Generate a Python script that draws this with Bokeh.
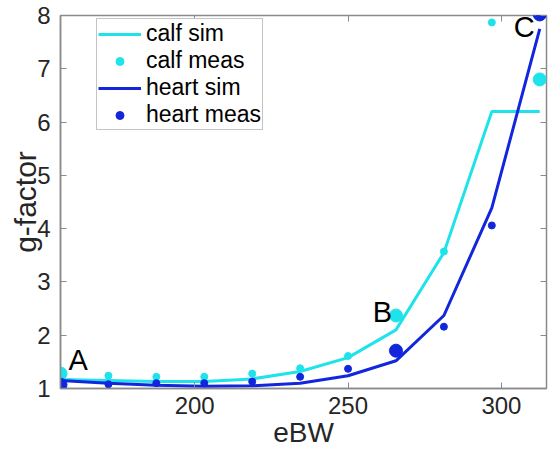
from bokeh.plotting import figure
from bokeh.models import ColumnDataSource, Range1d, LinearAxis, FixedTicker, Legend, LegendItem, Label
from bokeh.embed import file_html
from bokeh.resources import INLINE

# data
ebw = [156.25, 171.875, 187.5, 203.125, 218.75, 234.375, 250.0, 265.625, 281.25, 296.875, 312.5]
calf_sim = [1.17, 1.15, 1.13, 1.13, 1.18, 1.32, 1.58, 2.10, 3.55, 6.20, 6.20]
calf_meas = [1.28, 1.24, 1.22, 1.22, 1.28, 1.38, 1.61, 2.37, 3.57, 7.87, 6.80]
heart_sim = [1.15, 1.10, 1.06, 1.04, 1.05, 1.10, 1.24, 1.52, 2.37, 4.39, 7.75]
heart_meas = [1.07, 1.08, 1.10, 1.10, 1.13, 1.22, 1.37, 1.71, 2.16, 4.06, 8.02]
marked = [0, 7, 10]          # points A, B, C (drawn larger)
marked_names = ["A", "B", "C"]
x_ticks = [200, 250, 300]
y_ticks = [1, 2, 3, 4, 5, 6, 7, 8]

CYAN = "#1fe3ea"
BLUE = "#1226dc"
AX = "#8a8a8a"
TXT = "#262626"
FONT = "Liberation Sans"

src = ColumnDataSource(dict(x=ebw, cs=calf_sim, cm=calf_meas, hs=heart_sim, hm=heart_meas))
big = ColumnDataSource(dict(x=[ebw[i] for i in marked],
                            cm=[calf_meas[i] for i in marked],
                            hm=[heart_meas[i] for i in marked]))

p = figure(width=548, height=450, output_backend="svg", toolbar_location=None,
           x_range=Range1d(156.25, 314.7), y_range=Range1d(1, 8),
           min_border_left=60, min_border_right=2, min_border_top=15, min_border_bottom=0)
p.xgrid.visible = False
p.ygrid.visible = False
p.outline_line_color = AX
p.outline_line_width = 1.5
p.background_fill_color = "white"
p.border_fill_color = "white"

r_cs = p.line("x", "cs", source=src, line_color=CYAN, line_width=3)
r_cm = p.scatter("x", "cm", source=src, size=7, color=CYAN)
r_hs = p.line("x", "hs", source=src, line_color=BLUE, line_width=3)
r_hm = p.scatter("x", "hm", source=src, size=7, color=BLUE)
p.scatter("x", "cm", source=big, size=13, color=CYAN)
p.scatter("x", "hm", source=big, size=13, color=BLUE)

for ax in (p.xaxis[0], p.yaxis[0]):
    ax.axis_line_color = AX
    ax.axis_line_width = 1.5
    ax.major_tick_line_color = AX
    ax.major_tick_in = 6
    ax.major_tick_out = 0
    ax.minor_tick_line_color = None
    ax.major_label_text_font = FONT
    ax.major_label_text_font_size = "24px"
    ax.major_label_text_color = TXT
    ax.axis_label_text_font = FONT
    ax.axis_label_text_font_style = "normal"
    ax.axis_label_text_color = TXT

p.xaxis[0].ticker = FixedTicker(ticks=x_ticks)
p.yaxis[0].ticker = FixedTicker(ticks=y_ticks)
p.xaxis[0].axis_label = "eBW"
p.yaxis[0].axis_label = "g-factor"
p.xaxis[0].axis_label_text_font_size = "28px"
p.yaxis[0].axis_label_text_font_size = "30px"
p.xaxis[0].major_label_standoff = 8
p.xaxis[0].axis_label_standoff = 0
p.yaxis[0].major_label_standoff = 10
p.yaxis[0].axis_label_standoff = -8

# box ticks on top and right
top = LinearAxis(ticker=FixedTicker(ticks=x_ticks),
                 major_label_overrides={t: "" for t in x_ticks})
right = LinearAxis(ticker=FixedTicker(ticks=y_ticks),
                   major_label_overrides={t: "" for t in y_ticks})
for ax in (top, right):
    ax.axis_line_color = None
    ax.major_tick_line_color = AX
    ax.major_tick_in = 6
    ax.major_tick_out = 0
    ax.minor_tick_line_color = None
    ax.major_label_standoff = 0
p.add_layout(top, "above")
p.add_layout(right, "right")

legend = Legend(items=[LegendItem(label="calf sim", renderers=[r_cs]),
                       LegendItem(label="calf meas", renderers=[r_cm]),
                       LegendItem(label="heart sim", renderers=[r_hs]),
                       LegendItem(label="heart meas", renderers=[r_hm])],
                location=(36, 258))
legend.label_text_font = FONT
legend.label_text_font_size = "23px"
legend.label_text_line_height = 0.85
legend.label_text_color = "black"
legend.glyph_width = 43
legend.glyph_height = 20
legend.label_height = 20
legend.label_standoff = 5
legend.spacing = 0
legend.padding = 1
legend.margin = 0
legend.border_line_color = AX
legend.border_line_width = 1.5
legend.background_fill_alpha = 1
p.add_layout(legend, "center")

# point labels A, B, C
offsets = [(8, 14, "left"), (-4, 3, "right"), (-5, -13, "right")]
for i, name, (dx, dy, al) in zip(marked, marked_names, offsets):
    p.add_layout(Label(x=ebw[i], y=max(calf_meas[i], heart_meas[i]), text=name,
                       x_offset=dx, y_offset=dy, text_align=al, text_baseline="alphabetic",
                       text_font=FONT, text_font_size="29px", text_color="black"))

open("out.html", "w").write(file_html(p, INLINE))
